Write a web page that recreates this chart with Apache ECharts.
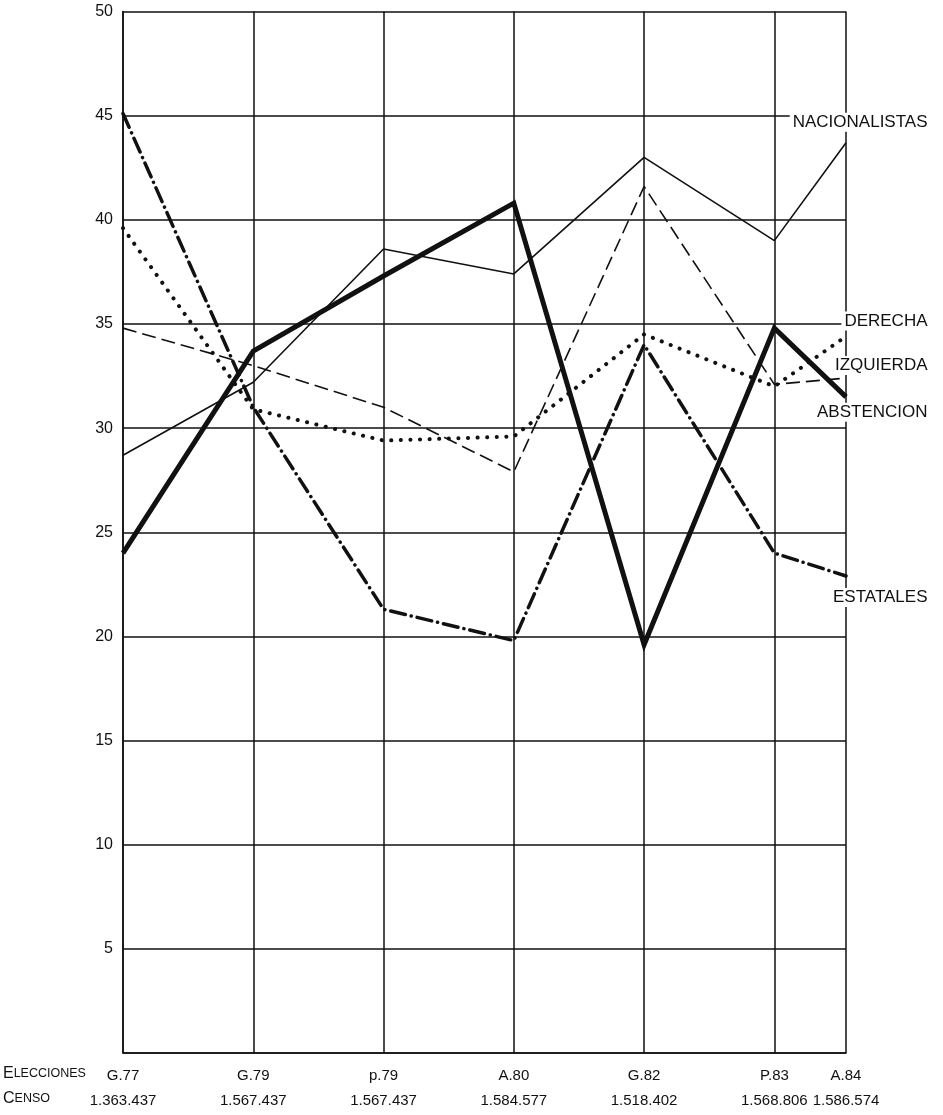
<!DOCTYPE html>
<html><head><meta charset="utf-8">
<script src="https://cdn.jsdelivr.net/npm/echarts@6/dist/echarts.min.js"></script>
<style>html,body{margin:0;padding:0;background:#fff}#c{width:943px;height:1115px}</style>
</head><body><div id="c"></div>
<script>
const elecciones = ['G.77','G.79','p.79','A.80','G.82','P.83','A.84'];
const censo = ['1.363.437','1.567.437','1.567.437','1.584.577','1.518.402','1.568.806','1.586.574'];
const electionSlots = [0, 1, 2, 3, 4, 5, 5.55];
const nacionalistas = [28.7, 32.2, 38.6, 37.4, 43.0, 39.0, 43.7];
const derecha       = [39.6, 30.9, 29.4, 29.6, 34.5, 32.0, 34.4];
const izquierda     = [34.8, 33.0, 31.0, 27.9, 41.6, 32.1, 32.4];
const abstencion    = [24.0, 33.7, 37.3, 40.8, 19.6, 34.8, 31.5];
const estatales     = [45.1, 31.0, 21.3, 19.8, 34.0, 24.0, 22.9];

const FONT = '"Liberation Sans", Arial, sans-serif';
const INK = '#111';
const chart = echarts.init(document.getElementById('c'), null, {renderer: 'canvas'});

function pts(arr) { return arr.map((v, i) => [electionSlots[i], v]); }
function slotIndex(v) {
  for (let i = 0; i < electionSlots.length; i++) if (Math.abs(electionSlots[i] - v) < 1e-6) return i;
  return -1;
}
function endTag(name, arr, pos) {
  const last = arr.length - 1;
  return {
    symbol: 'rect', symbolSize: 1, itemStyle: {color: 'rgba(0,0,0,0)'},
    silent: true, animation: false,
    data: [{coord: [electionSlots[last], arr[last]], value: name}],
    label: {
      show: true, formatter: name, position: pos, align: 'right', verticalAlign: 'middle',
      fontFamily: FONT, fontSize: 17, color: INK, backgroundColor: '#fff', padding: [1, 2, 1, 3]
    }
  };
}
function lineSeries(name, arr, lineStyle, tagPos) {
  return {
    name, type: 'line', data: pts(arr), symbol: 'none', z: 3, animation: false,
    lineStyle: Object.assign({color: INK}, lineStyle),
    markPoint: endTag(name, arr, tagPos)
  };
}
const capsRich = {big: {fontSize: 16, fontFamily: FONT, fill: INK}, sm: {fontSize: 12.5, fontFamily: FONT, fill: INK}};

const option = {
  backgroundColor: '#fff',
  animation: false,
  grid: {left: 123, right: 97, top: 11.5, bottom: 62, outerBoundsMode: 'none'},
  xAxis: {
    type: 'value', min: 0, max: electionSlots[electionSlots.length - 1],
    axisLine: {show: true, lineStyle: {color: INK, width: 1.6}},
    axisTick: {show: false}, splitLine: {show: false},
    axisLabel: {
      customValues: electionSlots, margin: 10, color: INK, fontFamily: FONT,
      formatter: v => { const i = slotIndex(v); return i < 0 ? '' : '{a|' + elecciones[i] + '}\n{b|' + censo[i] + '}'; },
      rich: {a: {fontSize: 15, lineHeight: 25, fontFamily: FONT, color: INK}, b: {fontSize: 15, lineHeight: 25, fontFamily: FONT, color: INK}}
    }
  },
  yAxis: {
    type: 'value', min: 0, max: 50, interval: 5,
    axisLine: {show: true, lineStyle: {color: INK, width: 1.6}},
    axisTick: {show: false},
    splitLine: {show: true, lineStyle: {color: INK, width: 1.5}},
    axisLabel: {formatter: v => v === 0 ? '' : String(v), fontSize: 16, fontFamily: FONT, color: INK, margin: 10}
  },
  graphic: [
    {type: 'text', left: 3, top: 1066, style: {text: '{big|E}{sm|LECCIONES}', rich: capsRich}},
    {type: 'text', left: 3, top: 1091, style: {text: '{big|C}{sm|ENSO}', rich: capsRich}}
  ],
  series: [
    {
      name: 'grid-verticals', type: 'line', data: [], z: 1, silent: true,
      markLine: {
        silent: true, symbol: ['none', 'none'], animation: false,
        label: {show: false},
        lineStyle: {color: INK, width: 1.5, type: 'solid'},
        data: electionSlots.map(v => ({xAxis: v}))
      }
    },
    lineSeries('NACIONALISTAS', nacionalistas, {width: 1.6, type: 'solid'}, [84, -20]),
    lineSeries('DERECHA', derecha, {width: 4, type: [0.1, 9.5], cap: 'round'}, [84, -15]),
    lineSeries('IZQUIERDA', izquierda, {width: 1.6, type: [14, 6]}, [84, -12]),
    lineSeries('ABSTENCION', abstencion, {width: 5, type: 'solid', join: 'miter'}, [84, 16]),
    lineSeries('ESTATALES', estatales, {width: 3.5, type: [15, 6, 0.1, 6], cap: 'round'}, [84, 22])
  ]
};
chart.setOption(option);
</script>
</body></html>
